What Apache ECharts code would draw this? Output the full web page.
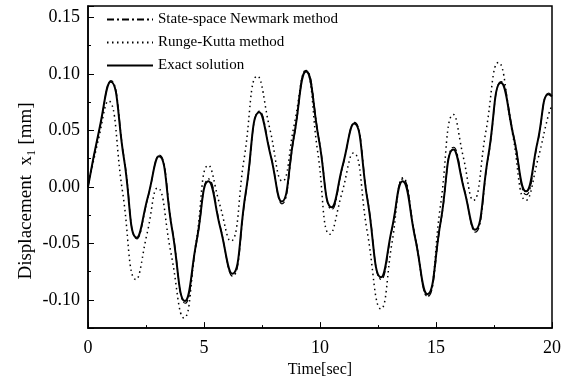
<!DOCTYPE html>
<html>
<head>
<meta charset="utf-8">
<script src="https://cdn.jsdelivr.net/npm/echarts@6/dist/echarts.min.js"></script>
<style>
  html, body { margin: 0; padding: 0; background: #fff; }
  #chart { width: 572px; height: 383px; }
</style>
</head>
<body>
<div id="chart"></div>
<script>
// time stamps (sec) and displacement values (mm)
const exactT = [0, 0.5, 0.98, 1.55, 2.1, 2.58, 3.06, 3.62, 4.18, 4.68, 5.19, 5.7, 6.22, 6.8, 7.38, 7.88, 8.35, 8.88, 9.4, 9.95,
  10.5, 10.98, 11.47, 12.05, 12.63, 13.1, 13.56, 14.1, 14.63, 15.2, 15.75, 16.22, 16.68, 17.25, 17.8, 18.35, 18.88, 19.38, 19.85, 20];
const exactY = [0, 0.052, 0.093, 0.025, -0.045, -0.009, 0.027, -0.037, -0.101, -0.048, 0.005, -0.036, -0.077, -0.005, 0.066, 0.027, -0.013, 0.045, 0.102, 0.042,
  -0.018, 0.019, 0.056, -0.012, -0.080, -0.037, 0.005, -0.045, -0.095, -0.031, 0.033, -0.003, -0.038, 0.027, 0.092, 0.044, -0.004, 0.040, 0.082, 0.080];

const newmarkT = [0, 0.5, 0.99, 1.56, 2.11, 2.59, 3.07, 3.63, 4.19, 4.69, 5.2, 5.71, 6.23, 6.81, 7.39, 7.89, 8.36, 8.89, 9.41, 9.96,
  10.51, 10.99, 11.48, 12.06, 12.64, 13.11, 13.57, 14.11, 14.64, 15.21, 15.76, 16.23, 16.69, 17.26, 17.81, 18.36, 18.89, 19.39, 19.86, 20];
const newmarkY = [0, 0.051, 0.094, 0.025, -0.046, -0.009, 0.028, -0.037, -0.103, -0.048, 0.007, -0.036, -0.079, -0.005, 0.067, 0.027, -0.015, 0.045, 0.103, 0.042,
  -0.020, 0.019, 0.057, -0.012, -0.082, -0.037, 0.007, -0.045, -0.097, -0.031, 0.035, -0.003, -0.040, 0.027, 0.093, 0.044, -0.007, 0.040, 0.083, 0.081];

const rkT = [0, 0.45, 0.88, 1.48, 2.07, 2.55, 3.0, 3.57, 4.14, 4.66, 5.19, 5.67, 6.15, 6.73, 7.3, 7.84, 8.38, 8.88, 9.38, 9.9,
  10.43, 10.94, 11.44, 12.03, 12.63, 13.1, 13.58, 14.1, 14.63, 15.19, 15.75, 16.18, 16.61, 17.15, 17.69, 18.28, 18.88, 19.4, 19.84, 20];
const rkY = [0, 0.042, 0.076, -0.003, -0.082, -0.041, -0.001, -0.058, -0.116, -0.049, 0.019, -0.015, -0.048, 0.025, 0.098, 0.051, 0.005, 0.054, 0.103, 0.031,
  -0.042, -0.006, 0.030, -0.039, -0.108, -0.050, 0.008, -0.045, -0.097, -0.017, 0.064, 0.026, -0.012, 0.049, 0.110, 0.049, -0.012, 0.025, 0.063, 0.072];

const seriesNames = ['State-space Newmark method', 'Runge-Kutta method', 'Exact solution'];
const xTicks = [0, 5, 10, 15, 20];
const yTitle = 'Displacement  x\u2081 [mm]';

const pairs = (t, y) => t.map((v, i) => [v, y[i]]);
const font = 'Liberation Serif';

const chart = echarts.init(document.getElementById('chart'));

chart.setOption({
  backgroundColor: '#fff',
  animation: false,
  textStyle: { fontFamily: font, color: '#000' },
  grid: {
    left: 88, right: 20, top: 6, bottom: 51,
    show: true, borderColor: '#000', borderWidth: 1.5, backgroundColor: 'transparent'
  },
  legend: {
    orient: 'vertical',
    left: 101, top: 7,
    itemWidth: 46, itemHeight: 14, itemGap: 8,
    itemStyle: { opacity: 0 },
    textStyle: { fontFamily: font, fontSize: 15, color: '#000' },
    data: seriesNames
  },
  // rotated y title, sits a little below the plot middle as in the original
  graphic: [{
    type: 'text',
    x: 26, y: 191,
    rotation: Math.PI / 2,
    style: {
      text: yTitle, fontFamily: font, fontSize: 19, fill: '#000',
      textAlign: 'center', textVerticalAlign: 'middle'
    }
  }],
  xAxis: {
    type: 'value',
    min: xTicks[0], max: xTicks[xTicks.length - 1], interval: 5,
    name: 'Time[sec]', nameLocation: 'middle', nameGap: 33,
    nameTextStyle: { fontFamily: font, fontSize: 16, color: '#000' },
    axisLine: { onZero: false, lineStyle: { color: '#000', width: 1.5 } },
    axisTick: { inside: true, length: 6, lineStyle: { color: '#000' } },
    minorTick: { show: true, splitNumber: 2, length: 3, lineStyle: { color: '#000' } },
    splitLine: { show: false },
    axisLabel: { fontFamily: font, fontSize: 18, color: '#000', margin: 11 }
  },
  yAxis: {
    type: 'value',
    min: -0.125, max: 0.16, splitNumber: 5,
    axisLine: { onZero: false, lineStyle: { color: '#000', width: 1.5 } },
    axisTick: { inside: true, length: 6, lineStyle: { color: '#000' } },
    minorTick: { show: true, splitNumber: 2, length: 3, lineStyle: { color: '#000' } },
    splitLine: { show: false },
    axisLabel: {
      fontFamily: font, fontSize: 18, color: '#000', margin: 8,
      showMinLabel: false, showMaxLabel: false,
      formatter: v => v.toFixed(2)
    }
  },
  series: [
    {
      name: seriesNames[0], type: 'line', data: pairs(newmarkT, newmarkY),
      smooth: 0.5, symbol: 'none', z: 3,
      itemStyle: { color: '#000' },
      lineStyle: { color: '#000', width: 1.2, type: [7, 3, 2, 3] }
    },
    {
      name: seriesNames[1], type: 'line', data: pairs(rkT, rkY),
      smooth: 0.5, symbol: 'none', z: 2,
      itemStyle: { color: '#000' },
      lineStyle: { color: '#000', width: 1.5, type: [1.5, 3.5] }
    },
    {
      name: seriesNames[2], type: 'line', data: pairs(exactT, exactY),
      smooth: 0.5, symbol: 'none', z: 4,
      itemStyle: { color: '#000' },
      lineStyle: { color: '#000', width: 2 }
    }
  ]
});
</script>
</body>
</html>
